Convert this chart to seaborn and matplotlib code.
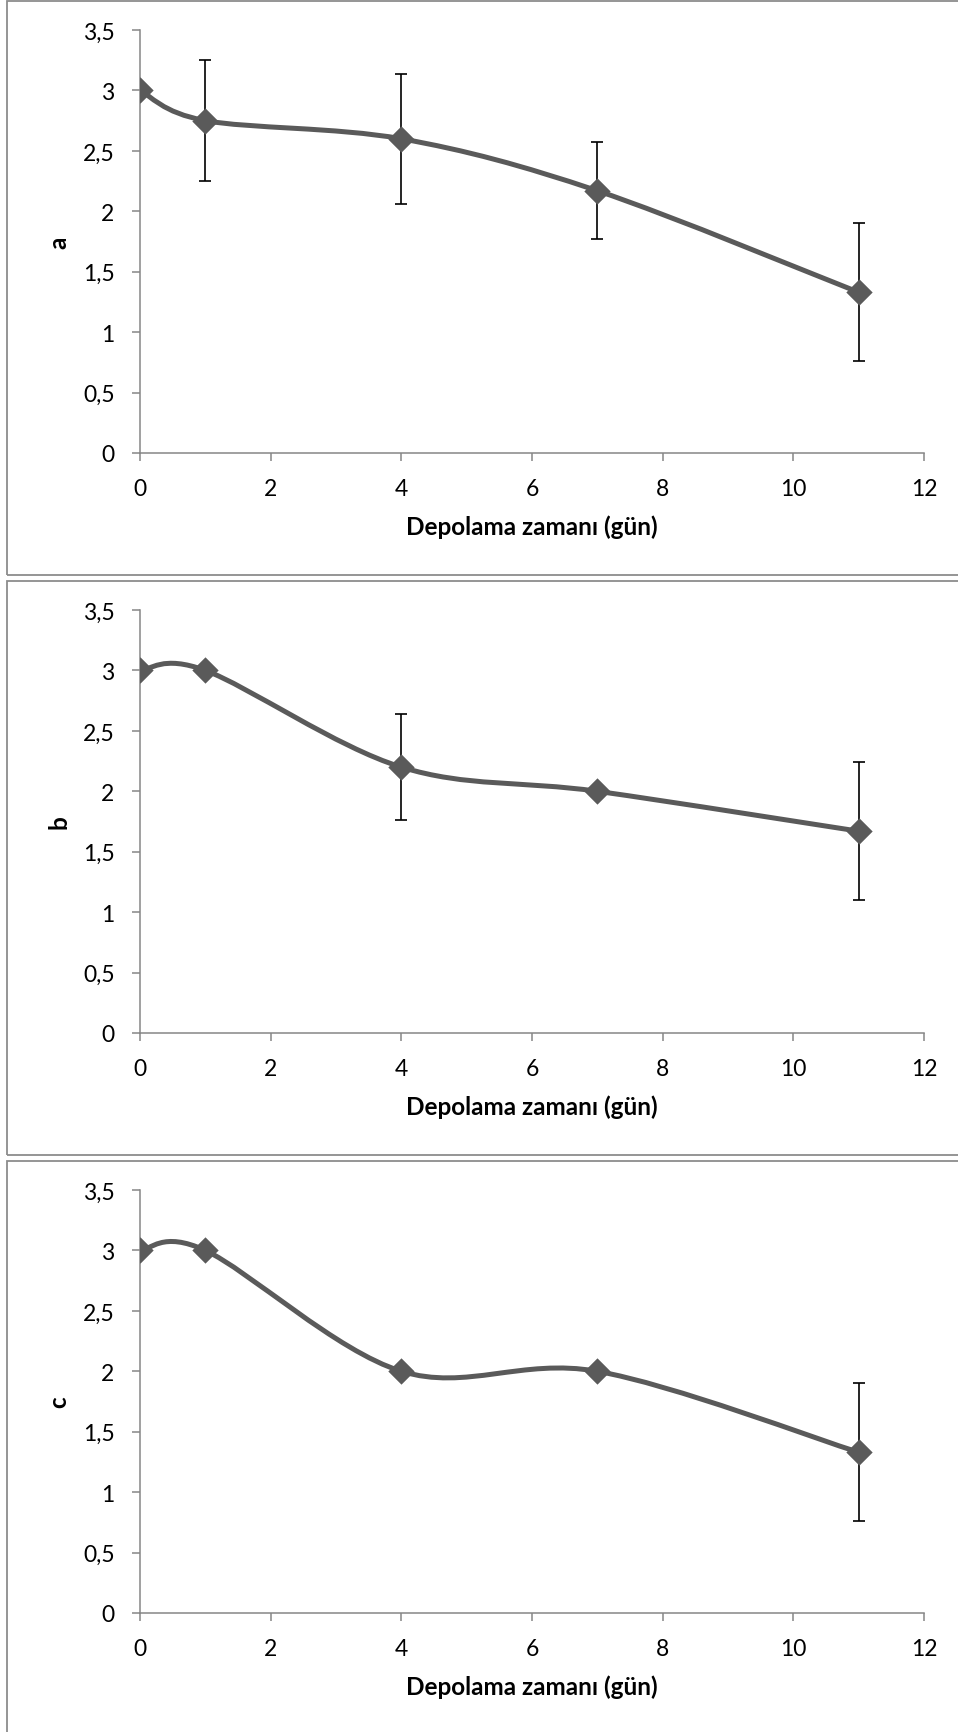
import numpy as np
import matplotlib
matplotlib.use("Agg")
import matplotlib.pyplot as plt
import seaborn as sns
import pandas as pd
from matplotlib.path import Path
from matplotlib.patches import PathPatch, Rectangle
from matplotlib.ticker import FuncFormatter, FixedLocator

# ---------------- data ----------------
days = [0, 1, 4, 7, 11]
a_vals = [3.0, 2.75, 2.60, 2.17, 1.33]
a_err = [0.0, 0.50, 0.54, 0.40, 0.57]
b_vals = [3.0, 3.0, 2.20, 2.00, 1.67]
b_err = [0.0, 0.0, 0.44, 0.0, 0.57]
c_vals = [3.0, 3.0, 2.00, 2.00, 1.33]
c_err = [0.0, 0.0, 0.0, 0.0, 0.57]
panel_labels = ["a", "b", "c"]
y_ticks = [0, 0.5, 1, 1.5, 2, 2.5, 3, 3.5]
x_ticks = [0, 2, 4, 6, 8, 10, 12]
x_label = "Depolama zamanı (gün)"

series = [(a_vals, a_err), (b_vals, b_err), (c_vals, c_err)]

# ---------------- style ----------------
sns.set_theme(style="white")
plt.rcParams["font.family"] = ["Lato", "DejaVu Sans"]

W, H = 958, 1733
fig = plt.figure(figsize=(W / 100, H / 100), dpi=100)
fig.patch.set_facecolor("white")

LINE_C = "#5a5a5a"
AXIS_C = "#868686"
BORDER_C = "#8c8c8c"
FS = 16.5
FS_LAB = 17.5


def smooth_path(xs, ys):
    P = np.column_stack([xs, ys]).astype(float)
    n = len(P)
    verts = [P[0]]
    codes = [Path.MOVETO]
    for i in range(n - 1):
        p0 = P[i - 1] if i > 0 else P[i]
        p1 = P[i]
        p2 = P[i + 1]
        p3 = P[i + 2] if i + 2 < n else P[i + 1]
        c1 = p1 + (p2 - p0) / 6.0
        c2 = p2 - (p3 - p1) / 6.0
        verts += [c1, c2, p2]
        codes += [Path.CURVE4] * 3
    return Path(verts, codes)


offsets = [0, 580, 1160]
ax_left, ax_right, ax_top, ax_bottom = 140, 924, 31, 454

for (vals, err), lab, off in zip(series, panel_labels, offsets):
    # panel border
    rect = Rectangle(((7) / W, 1 - (576 + off) / H), (1000 - 7) / W, (574) / H,
                     transform=fig.transFigure, fill=False, edgecolor=BORDER_C,
                     linewidth=1.3, zorder=0)
    fig.patches.append(rect)

    ax = fig.add_axes([ax_left / W, 1 - (ax_bottom + off) / H,
                       (ax_right - ax_left) / W, (ax_bottom - ax_top) / H])
    ax.set_facecolor("none")
    df = pd.DataFrame({"day": days, "val": vals, "err": err})

    # smooth line
    ax.add_patch(PathPatch(smooth_path(df["day"], df["val"]), facecolor="none",
                           edgecolor=LINE_C, linewidth=3.6, capstyle="round",
                           joinstyle="round", zorder=2))

    # error bars (only where present)
    de = df[df["err"] > 0]
    ax.errorbar(de["day"], de["val"], yerr=de["err"], fmt="none", ecolor="black",
                elinewidth=1.2, capsize=4.3, capthick=1.2, zorder=3)

    # markers
    sns.scatterplot(data=df, x="day", y="val", marker="D", s=180, color=LINE_C,
                    edgecolor=LINE_C, linewidth=0, zorder=4, ax=ax, legend=False)

    ax.set_xlim(0, 12)
    ax.set_ylim(0, 3.5)
    ax.xaxis.set_major_locator(FixedLocator(x_ticks))
    ax.yaxis.set_major_locator(FixedLocator(y_ticks))
    fmt = FuncFormatter(lambda v, p: f"{v:g}".replace(".", ","))
    ax.xaxis.set_major_formatter(fmt)
    ax.yaxis.set_major_formatter(fmt)

    for s in ["top", "right"]:
        ax.spines[s].set_visible(False)
    for s in ["left", "bottom"]:
        ax.spines[s].set_color(AXIS_C)
        ax.spines[s].set_linewidth(1.1)
    ax.tick_params(axis="both", which="major", direction="out", length=5.8,
                   width=1.1, color=AXIS_C, labelsize=FS, labelcolor="black",
                   pad=12.5, left=True, bottom=True)

    ax.set_xlabel(x_label, fontsize=FS_LAB, fontweight="bold", color="black", labelpad=11)
    ax.set_ylabel(lab, fontsize=FS_LAB, fontweight="bold", color="black")
    ax.yaxis.label.set_verticalalignment("center")
    ax.yaxis.set_label_coords((59 - ax_left) / (ax_right - ax_left), 0.5)
    ax.grid(False)

fig.savefig("out.png", dpi=100, facecolor="white")
